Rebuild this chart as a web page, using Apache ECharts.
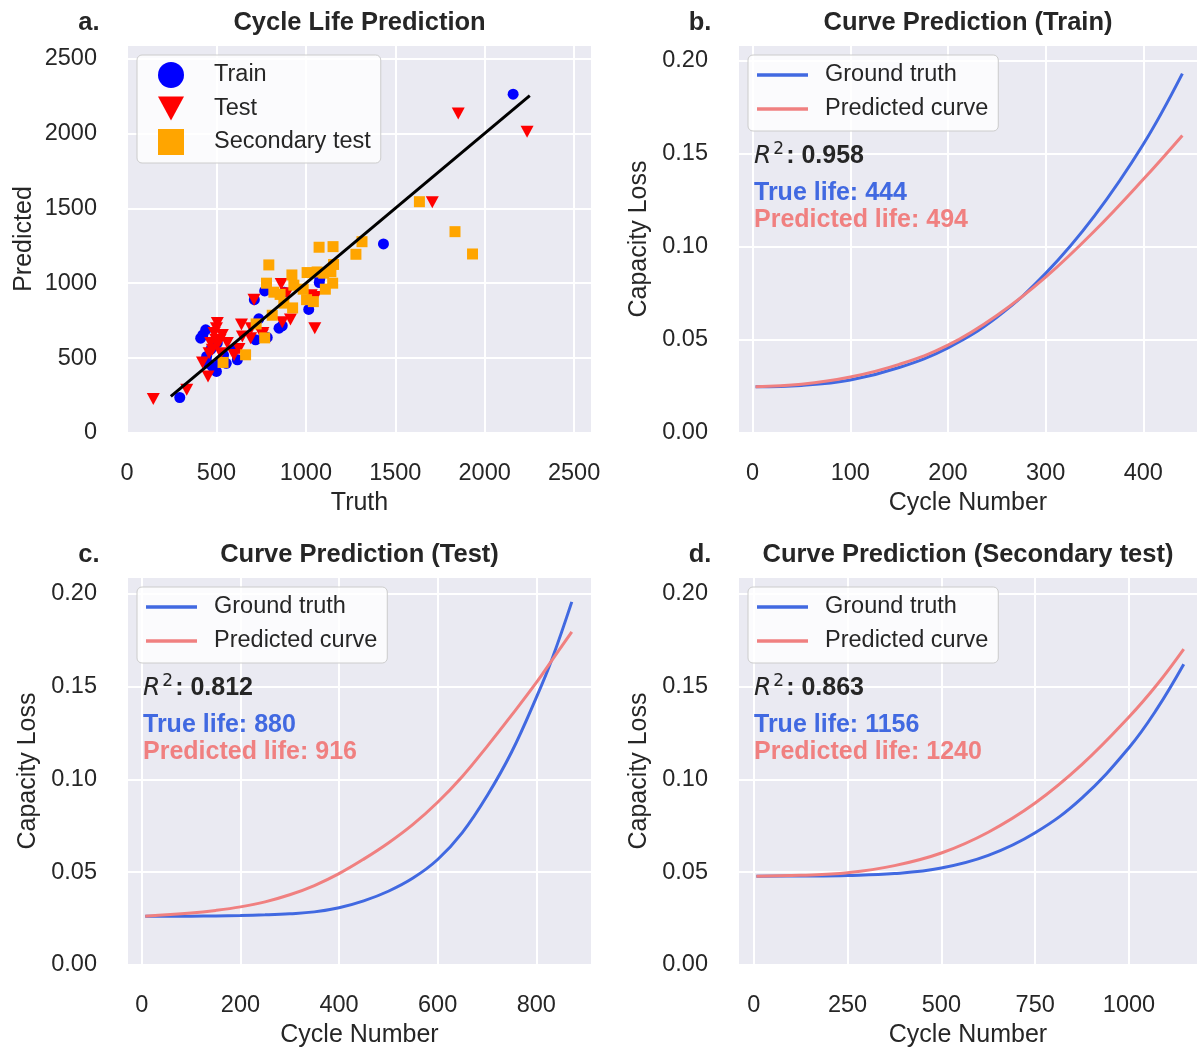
<!DOCTYPE html>
<html>
<head>
<meta charset="utf-8">
<title>Cycle life and capacity-loss curve prediction</title>
<script src="https://cdn.jsdelivr.net/npm/echarts@6/dist/echarts.min.js"></script>
<style>
  html, body { margin: 0; padding: 0; background: #ffffff; }
  #chart { width: 1198px; height: 1048px; }
</style>
</head>
<body>
<div id="chart"></div>
<script>
// ---------------- data ----------------
// Panel a: observed vs predicted cycle life
const trainTruth = [2159, 1434, 295, 1016, 1075, 770, 737, 784, 868, 712, 617, 555, 500, 424, 440, 412, 445, 450, 477, 719, 765, 520, 540, 470, 600, 505, 1078, 880, 850];
const trainPred  = [2262, 1262, 237, 825, 1004, 948, 762, 638, 716, 890, 489, 465, 411, 655, 689, 633, 511, 467, 444, 622, 644, 480, 520, 560, 560, 600, 1030, 940, 700];

const testTruth = [1852, 2237, 1707, 1050, 147, 334, 453, 422, 710, 862, 896, 1030, 1053, 914, 868, 640, 505, 695, 487, 533, 645, 691, 756, 468, 505, 561, 459, 524, 598, 626, 496, 477, 760, 500, 520];
const testPred  = [2133, 2011, 1540, 700, 227, 289, 377, 471, 889, 995, 933, 920, 908, 757, 740, 725, 735, 700, 667, 655, 644, 633, 655, 600, 589, 600, 533, 533, 520, 560, 622, 555, 667, 700, 620];

const secTruth = [1635, 1834, 1932, 1314, 1280, 1074, 1152, 793, 1155, 1140, 1007, 1063, 1100, 922, 933, 780, 1150, 1109, 985, 821, 856, 1004, 1042, 877, 926, 812, 770, 722, 663, 537];
const secPred  = [1544, 1344, 1195, 1277, 1193, 1240, 1244, 1122, 1125, 1077, 1071, 1075, 1067, 1055, 987, 1000, 1000, 960, 960, 940, 925, 890, 877, 867, 835, 786, 635, 728, 522, 471];

// identity reference line (start and end of the y = x segment)
const diagEnds = [245, 2252];

// Panel b: training cell
const trainCycles   = [3, 50, 100, 150, 200, 250, 300, 350, 400, 440];
const trainTrueLoss = [0.0249, 0.0256, 0.0285, 0.0352, 0.0458, 0.0622, 0.0858, 0.1167, 0.1552, 0.1932];
const trainPredLoss = [0.0249, 0.0262, 0.0301, 0.0369, 0.0472, 0.0632, 0.0838, 0.1086, 0.1364, 0.1600];

// Panel c: test cell
const testCycles   = [7, 100, 150, 200, 250, 300, 350, 400, 450, 500, 550, 600, 650, 700, 750, 800, 832, 872];
const testTrueLoss = [0.0263, 0.0263, 0.0264, 0.0266, 0.0270, 0.0276, 0.0286, 0.0308, 0.0345, 0.0397, 0.0468, 0.0568, 0.0713, 0.0910, 0.1147, 0.1440, 0.1648, 0.1955];
const testPredLoss = [0.0263, 0.0280, 0.0294, 0.0313, 0.0340, 0.0378, 0.0428, 0.0492, 0.0570, 0.0657, 0.0757, 0.0876, 0.1015, 0.1176, 0.1345, 0.1520, 0.1642, 0.1794];

// Panel d: secondary test cell
const secCycles   = [7, 125, 250, 375, 500, 625, 750, 875, 1000, 1075, 1146];
const secTrueLoss = [0.0478, 0.0479, 0.0482, 0.0492, 0.0522, 0.0590, 0.0712, 0.0900, 0.1170, 0.1380, 0.1619];
const secPredLoss = [0.0478, 0.0483, 0.0497, 0.0535, 0.0603, 0.0715, 0.0872, 0.1080, 0.1335, 0.1510, 0.1701];

// Text shown in the panels
const panelTitles  = ['Cycle Life Prediction', 'Curve Prediction (Train)', 'Curve Prediction (Test)', 'Curve Prediction (Secondary test)'];
const panelLetters = ['a.', 'b.', 'c.', 'd.'];
const r2Scores     = ['0.958', '0.812', '0.863'];
const trueLives    = [444, 880, 1156];
const predLives    = [494, 916, 1240];

// ---------------- styling ----------------
const FONT = '"Liberation Sans", Arial, Helvetica, sans-serif';
const MATH_FONT = '"DejaVu Sans", sans-serif';
const INK = '#262626';
const BLUE = '#4169E1';
const CORAL = '#F08080';
const PANEL_BG = '#EAEAF2';

const boxes = [
  { left: 127, top: 45,  width: 465, height: 388 },
  { left: 738, top: 45,  width: 460, height: 388 },
  { left: 127, top: 577, width: 465, height: 388 },
  { left: 738, top: 577, width: 460, height: 388 }
];

const xSpecs = [
  { name: 'Truth',        min: 0,   max: 2600, step: 500 },
  { name: 'Cycle Number', min: -15, max: 456,  step: 100 },
  { name: 'Cycle Number', min: -30, max: 913,  step: 200 },
  { name: 'Cycle Number', min: -42, max: 1184, step: 250 }
];
const ySpecs = [
  { name: 'Predicted',     min: 0, max: 2590,   step: 500,  gap: 90, dec: 0 },
  { name: 'Capacity Loss', min: 0, max: 0.2086, step: 0.05, gap: 86, dec: 2 },
  { name: 'Capacity Loss', min: 0, max: 0.2089, step: 0.05, gap: 86, dec: 2 },
  { name: 'Capacity Loss', min: 0, max: 0.2089, step: 0.05, gap: 86, dec: 2 }
];

function zip(a, b) { return a.map((v, i) => [v, b[i]]); }

const grid = boxes.map(b => ({
  left: b.left, top: b.top, width: b.width, height: b.height,
  show: true, backgroundColor: PANEL_BG, borderWidth: 0,
  containLabel: false, outerBoundsMode: 'none'
}));

const xAxis = xSpecs.map((s, i) => ({
  type: 'value', gridIndex: i, min: s.min, max: s.max,
  minInterval: s.step, maxInterval: s.step,
  name: s.name, nameLocation: 'middle', nameGap: 58,
  nameTextStyle: { fontFamily: FONT, fontSize: 25, color: INK },
  axisLine: { show: false }, axisTick: { show: false },
  splitLine: { show: true, lineStyle: { color: '#ffffff', width: 2 } },
  axisLabel: {
    fontFamily: FONT, fontSize: 23.5, color: INK, margin: 29,
    showMinLabel: s.min % s.step === 0, showMaxLabel: false,
    formatter: v => (Math.abs(v) < 1e-9 ? '0' : String(Math.round(v)))
  }
}));

const yAxis = ySpecs.map((s, i) => ({
  type: 'value', gridIndex: i, min: s.min, max: s.max,
  minInterval: s.step, maxInterval: s.step,
  name: s.name, nameLocation: 'middle', nameGap: s.gap, nameRotate: 90,
  nameTextStyle: { fontFamily: FONT, fontSize: 25, color: INK },
  axisLine: { show: false }, axisTick: { show: false },
  splitLine: { show: true, lineStyle: { color: '#ffffff', width: 2 } },
  axisLabel: {
    fontFamily: FONT, fontSize: 23.5, color: INK, margin: 30,
    showMinLabel: true, showMaxLabel: false,
    formatter: v => (s.dec ? Math.abs(v).toFixed(s.dec) : String(Math.round(Math.abs(v))))
  }
}));

const series = [
  {
    name: 'Train', type: 'scatter', xAxisIndex: 0, yAxisIndex: 0,
    data: zip(trainTruth, trainPred), symbol: 'circle', symbolSize: 11,
    itemStyle: { color: '#0000FF', opacity: 1 }, z: 2
  },
  {
    name: 'Test', type: 'scatter', xAxisIndex: 0, yAxisIndex: 0,
    data: zip(testTruth, testPred), symbol: 'triangle', symbolRotate: 180, symbolSize: [13, 12],
    itemStyle: { color: '#FF0000', opacity: 1 }, z: 3
  },
  {
    name: 'Secondary test', type: 'scatter', xAxisIndex: 0, yAxisIndex: 0,
    data: zip(secTruth, secPred), symbol: 'rect', symbolSize: 11,
    itemStyle: { color: '#FFA500', opacity: 1 }, z: 4
  },
  {
    name: 'y = x', type: 'line', xAxisIndex: 0, yAxisIndex: 0,
    data: [[diagEnds[0], diagEnds[0]], [diagEnds[1], diagEnds[1]]],
    symbol: 'none', lineStyle: { color: '#000000', width: 3 }, z: 5, silent: true
  }
];

const curveSets = [
  [trainCycles, trainTrueLoss, trainPredLoss],
  [testCycles, testTrueLoss, testPredLoss],
  [secCycles, secTrueLoss, secPredLoss]
];
curveSets.forEach((set, k) => {
  const gi = k + 1;
  series.push({
    name: 'Ground truth', type: 'line', xAxisIndex: gi, yAxisIndex: gi,
    data: zip(set[0], set[1]), symbol: 'none', smooth: 0.4,
    lineStyle: { color: BLUE, width: 3 }, itemStyle: { color: BLUE }, z: 2
  });
  series.push({
    name: 'Predicted curve', type: 'line', xAxisIndex: gi, yAxisIndex: gi,
    data: zip(set[0], set[2]), symbol: 'none', smooth: 0.4,
    lineStyle: { color: CORAL, width: 3 }, itemStyle: { color: CORAL }, z: 3
  });
});

const legendBase = {
  orient: 'vertical', selectedMode: false,
  backgroundColor: 'rgba(255,255,255,0.8)', borderColor: '#CCCCCC', borderWidth: 1, borderRadius: 5,
  textStyle: { fontFamily: FONT, fontSize: 23.5, color: INK, lineHeight: 26 }
};

const legend = [
  Object.assign({}, legendBase, {
    left: boxes[0].left + 10, top: boxes[0].top + 10,
    padding: [7, 10, 8, 21], itemWidth: 26, itemHeight: 26, itemGap: 7.5,
    textStyle: Object.assign({}, legendBase.textStyle, { rich: { g: { width: 25 } } }),
    formatter: n => '{g| }' + n,
    data: [
      { name: 'Train', icon: 'circle' },
      { name: 'Test', icon: 'path://M0,0L2,0L1,1.85Z' },
      { name: 'Secondary test', icon: 'path://M0,0H1V1H0Z' }
    ]
  })
];
[1, 2, 3].forEach(gi => {
  legend.push(Object.assign({}, legendBase, {
    left: boxes[gi].left + 10, top: boxes[gi].top + 10,
    padding: [7, 10, 9, 9], itemWidth: 51, itemHeight: 3.5, itemGap: 8,
    textStyle: Object.assign({}, legendBase.textStyle, { rich: { g: { width: 12 } } }),
    formatter: n => '{g|}' + n,
    data: [
      { name: 'Ground truth', icon: 'rect', itemStyle: { color: BLUE } },
      { name: 'Predicted curve', icon: 'rect', itemStyle: { color: CORAL } }
    ]
  }));
});

// Titles, panel letters and the score annotations (kept above the grid lines)
const graphic = [];
boxes.forEach((b, i) => {
  const cx = b.left + b.width / 2;
  const cy = b.top - 22;
  graphic.push({
    type: 'text', x: cx, y: cy, z: 100,
    style: { text: panelTitles[i], fontFamily: FONT, fontSize: 25.5, fontWeight: 'bold', fill: INK, align: 'center', verticalAlign: 'middle' }
  });
  graphic.push({
    type: 'text', x: b.left - 38, y: cy, z: 100,
    style: { text: panelLetters[i], fontFamily: FONT, fontSize: 25.5, fontWeight: 'bold', fill: INK, align: 'center', verticalAlign: 'middle' }
  });
});
[1, 2, 3].forEach((gi, k) => {
  const b = boxes[gi];
  const x = b.left + 16;
  graphic.push({
    type: 'text', x: x, y: b.top + 111, z: 100,
    style: {
      text: '{r|R}{s|2}{v|: ' + r2Scores[k] + '}',
      align: 'left', verticalAlign: 'middle',
      rich: {
        r: { fontFamily: MATH_FONT, fontStyle: 'italic', fontSize: 25, fill: INK },
        s: { fontFamily: MATH_FONT, fontSize: 17, fill: INK, padding: [0, 2, 12, 2] },
        v: { fontFamily: FONT, fontWeight: 'bold', fontSize: 25, fill: INK }
      }
    }
  });
  graphic.push({
    type: 'text', x: x, y: b.top + 148, z: 100,
    style: { text: 'True life: ' + trueLives[k], fontFamily: FONT, fontWeight: 'bold', fontSize: 25, fill: BLUE, align: 'left', verticalAlign: 'middle' }
  });
  graphic.push({
    type: 'text', x: x, y: b.top + 175, z: 100,
    style: { text: 'Predicted life: ' + predLives[k], fontFamily: FONT, fontWeight: 'bold', fontSize: 25, fill: CORAL, align: 'left', verticalAlign: 'middle' }
  });
});

const chart = echarts.init(document.getElementById('chart'), null, { renderer: 'canvas' });
chart.setOption({
  animation: false,
  backgroundColor: '#ffffff',
  grid, xAxis, yAxis, series, legend, graphic
});
</script>
</body>
</html>
